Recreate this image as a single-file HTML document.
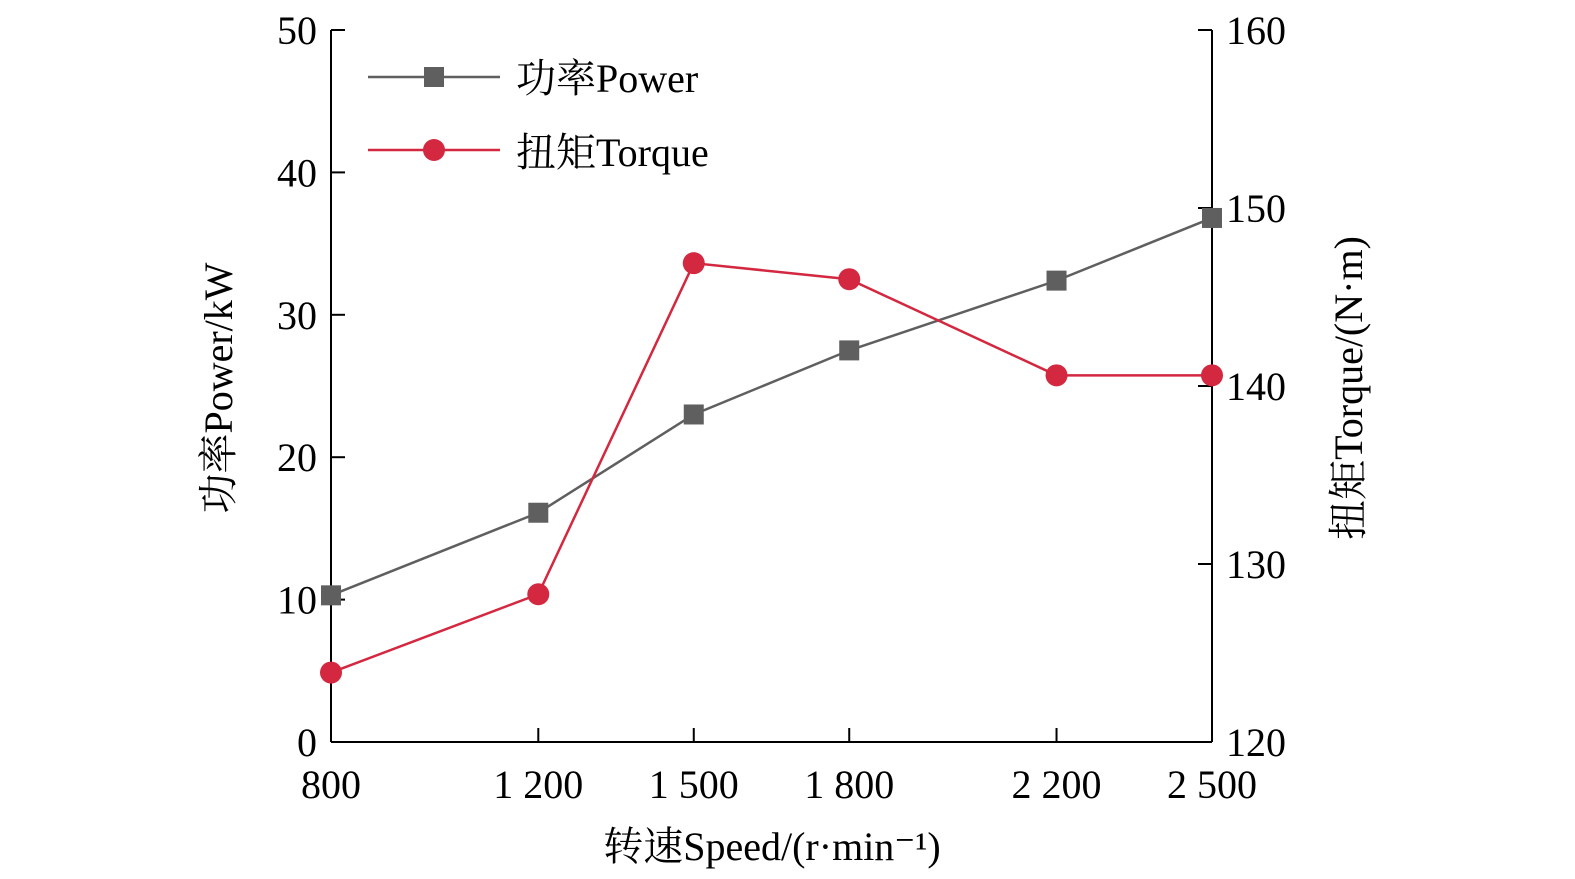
<!DOCTYPE html>
<html><head><meta charset="utf-8"><style>
html,body{margin:0;padding:0;background:#fff;}
svg{display:block;font-family:"Liberation Serif","Noto Serif CJK SC",serif;}
</style></head><body>
<svg id="chart" width="1575" height="879" viewBox="0 0 1575 879" xmlns="http://www.w3.org/2000/svg"></svg>
<script>
const speeds=[800,1200,1500,1800,2200,2500];
const xTickLabels=["800","1 200","1 500","1 800","2 200","2 500"];
const powerValues=[10.3,16.1,23.0,27.5,32.4,36.8];
const torqueValues=[123.9,128.3,146.9,146.0,140.6,140.6];
const leftTicks=[0,10,20,30,40,50];
const rightTicks=[120,130,140,150,160];

const NS="http://www.w3.org/2000/svg";
const svg=document.getElementById('chart');
const X0=331,X1=1212,Y0=742,Y1=30;
const xs=v=>X0+(v-800)/(2500-800)*(X1-X0);
const yl=v=>Y0-(v-0)/50*(Y0-Y1);
const yr=v=>Y0-(v-120)/40*(Y0-Y1);
function mk(tag,attrs,name,text){const e=document.createElementNS(NS,tag);for(const k in attrs)e.setAttribute(k,attrs[k]);


if(text!==undefined)e.textContent=text;svg.appendChild(e);return e;}
const ax={stroke:"#000","stroke-width":2,fill:"none"};
mk('line',{x1:X0,y1:Y1,x2:X0,y2:Y0,...ax},'left-y-axis');
mk('line',{x1:X1,y1:Y1,x2:X1,y2:Y0,...ax},'right-y-axis');
mk('line',{x1:X0,y1:Y0,x2:X1,y2:Y0,...ax},'x-axis');
leftTicks.forEach(t=>{const y=yl(t);
mk('line',{x1:X0,y1:y,x2:X0+14,y2:y,...ax},'left-tick');
mk('text',{x:X0-14,y:y+14,"text-anchor":"end","font-size":40},'left-tick-label',String(t));});
rightTicks.forEach(t=>{const y=yr(t);
mk('line',{x1:X1-14,y1:y,x2:X1,y2:y,...ax},'right-tick');
mk('text',{x:X1+14,y:y+14,"text-anchor":"start","font-size":40},'right-tick-label',String(t));});
speeds.forEach((s,i)=>{const x=xs(s);
mk('line',{x1:x,y1:Y0,x2:x,y2:Y0-14,...ax},'x-tick');
mk('text',{x:x,y:798,"text-anchor":"middle","font-size":40},'x-tick-label',xTickLabels[i]);});
mk('text',{x:772,y:860,"text-anchor":"middle","font-size":40},'x-axis-title','转速Speed/(r·min⁻¹)');
mk('text',{x:0,y:0,"text-anchor":"middle","font-size":40,transform:"translate(232,388) rotate(-90)"},'left-y-axis-title','功率Power/kW');
mk('text',{x:0,y:0,"text-anchor":"middle","font-size":40,transform:"translate(1362,388) rotate(-90)"},'right-y-axis-title','扭矩Torque/(N·m)');
const grey="#5f5f5f",red="#d3283f";
mk('polyline',{points:speeds.map((s,i)=>xs(s)+','+yl(powerValues[i])).join(' '),fill:"none",stroke:grey,"stroke-width":2.5},'power-line');
mk('polyline',{points:speeds.map((s,i)=>xs(s)+','+yr(torqueValues[i])).join(' '),fill:"none",stroke:red,"stroke-width":2.5},'torque-line');
speeds.forEach((s,i)=>{mk('rect',{x:xs(s)-10,y:yl(powerValues[i])-10,width:20,height:20,fill:grey},'power-point');});
speeds.forEach((s,i)=>{mk('circle',{cx:xs(s),cy:yr(torqueValues[i]),r:11,fill:red},'torque-point');});
mk('line',{x1:368,y1:77,x2:500,y2:77,stroke:grey,"stroke-width":2.5},'legend-power-line');
mk('rect',{x:424,y:67,width:20,height:20,fill:grey},'legend-power-marker');
mk('text',{x:516,y:92,"font-size":40},'legend-power-label','功率Power');
mk('line',{x1:368,y1:150,x2:500,y2:150,stroke:red,"stroke-width":2.5},'legend-torque-line');
mk('circle',{cx:434,cy:150,r:11,fill:red},'legend-torque-marker');
mk('text',{x:516,y:166,"font-size":40},'legend-torque-label','扭矩Torque');
</script>
</body></html>
